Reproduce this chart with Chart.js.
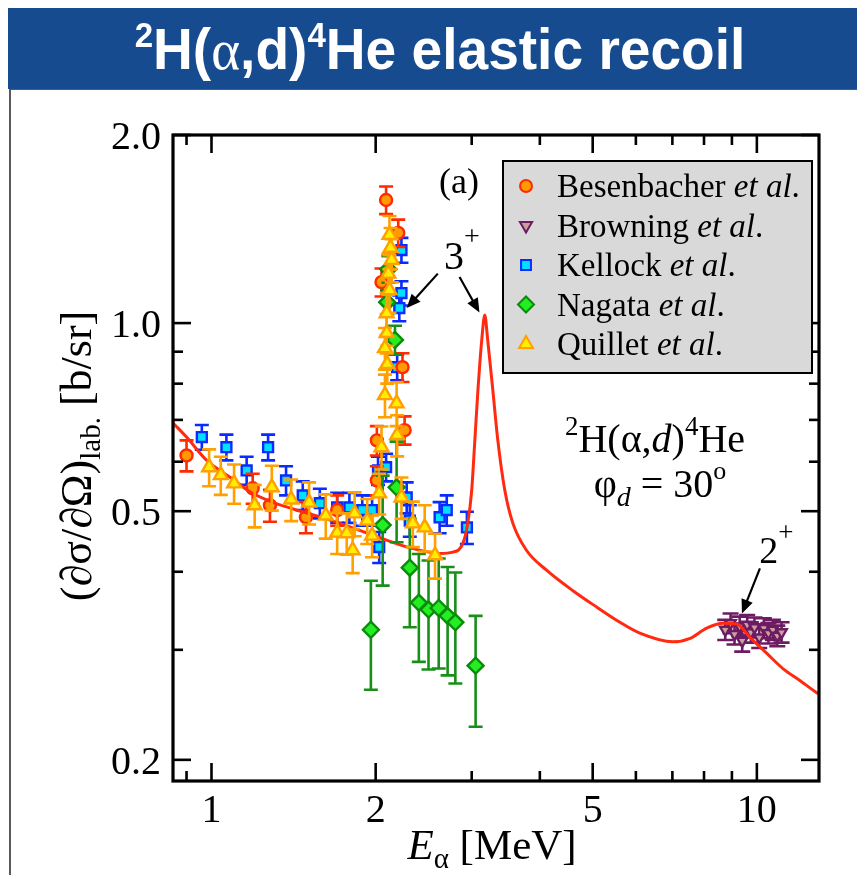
<!DOCTYPE html>
<html lang="en">
<head>
<meta charset="UTF-8">
<title>2H(a,d)4He elastic recoil</title>
<script src="https://cdn.jsdelivr.net/npm/chart.js"></script>
<style>
  body {
    margin: 0;
    width: 857px;
    height: 875px;
    background: #fff;
    overflow: hidden;
    position: relative;
  }
  header {
    position: absolute;
    left: 8px;
    top: 8px;
    width: 849px;
    height: 81px;
    background: #174b8f;
    color: #fff;
    font-family: 'Liberation Sans', Arial, sans-serif;
    font-weight: bold;
    font-size: 58px;
    line-height: 81px;
    text-align: center;
    z-index: 2;
  }
  header span.t { display: inline-block; transform: scaleX(0.95); padding-left: 16px; }
  header sup { font-size: 0.6em; vertical-align: 0.62em; line-height: 0; }
  header .al { font-family: 'Liberation Serif', serif; font-weight: normal; }
  .frame {
    position: absolute;
    left: 9px;
    top: 88px;
    width: 870px;
    height: 800px;
    border: 2px solid #5a5a5a;
    box-sizing: border-box;
  }
  #wrap { position: absolute; left: 0; top: 0; width: 857px; height: 875px; z-index: 1; }
</style>
</head>
<body>
<header><span class="t"><sup>2</sup>H(<span class="al">α</span>,d)<sup>4</sup>He elastic recoil</span></header>
<div class="frame"></div>
<div id="wrap"><canvas id="chart" width="857" height="875"></canvas></div>

<script>
// axis ranges and ticks (log-log)
const xMin = 0.85, xMax = 13;
const yMin = 0.185, yMax = 2.0;
const xMajor = [1, 2, 5, 10];
const xTickLabels = ['1', '2', '5', '10'];
const xMinor = [0.9, 3, 4, 6, 7, 8, 9];
const yMajor = [0.2, 0.5, 1.0, 2.0];
const yTickLabels = ['0.2', '0.5', '1.0', '2.0'];
const yMinor = [0.3, 0.4, 0.6, 0.7, 0.8, 0.9];

// R-matrix curve
const thE = [0.85, 0.90, 0.98, 1.09, 1.18, 1.30, 1.48, 1.66, 1.87, 2.03, 2.31, 2.62, 2.77, 2.89, 2.95, 3.00, 3.04, 3.08, 3.13, 3.17, 3.21, 3.28, 3.35, 3.45, 3.57, 3.78, 4.12, 4.60, 5.09, 5.61, 6.10, 7.01, 7.55, 8.09, 8.66, 9.19, 9.71, 10.43, 11.16, 11.99, 12.89, 13.0];
const thS = [0.692, 0.657, 0.603, 0.564, 0.536, 0.516, 0.498, 0.483, 0.466, 0.454, 0.437, 0.428, 0.430, 0.444, 0.478, 0.540, 0.649, 0.781, 0.939, 1.03, 0.939, 0.781, 0.649, 0.540, 0.478, 0.433, 0.402, 0.373, 0.351, 0.332, 0.319, 0.309, 0.313, 0.325, 0.331, 0.330, 0.314, 0.296, 0.280, 0.268, 0.256, 0.255];

// Besenbacher et al.
const besE = [0.90, 1.19, 1.28, 1.49, 1.70, 2.01, 2.01, 2.05, 2.09, 2.20, 2.24, 2.26];
const besS = [0.614, 0.544, 0.511, 0.489, 0.502, 0.649, 0.560, 1.163, 1.574, 1.394, 0.850, 0.674];
const besErr = [0.035, 0.03, 0.03, 0.028, 0.028, 0.035, 0.03, 0.06, 0.08, 0.07, 0.045, 0.035];

// Browning et al.
const broE = [8.75, 8.95, 9.10, 9.30, 9.40, 9.60, 9.75, 9.90, 10.1, 10.3, 10.5, 10.7, 10.9, 11.1];
const broS = [0.323, 0.331, 0.318, 0.327, 0.310, 0.329, 0.320, 0.326, 0.314, 0.325, 0.319, 0.323, 0.316, 0.320];
const broErr = [0.012, 0.012, 0.012, 0.012, 0.012, 0.012, 0.012, 0.012, 0.012, 0.012, 0.012, 0.012, 0.012, 0.012];

// Kellock et al.
const kelE = [0.96, 1.065, 1.16, 1.27, 1.37, 1.47, 1.58, 1.70, 1.79, 1.89, 1.97, 2.03, 2.02, 2.09, 2.19, 2.21, 2.23, 2.23, 2.28, 2.31, 2.62, 2.70, 2.94];
const kelS = [0.657, 0.633, 0.581, 0.633, 0.560, 0.530, 0.515, 0.507, 0.507, 0.502, 0.502, 0.438, 0.581, 0.588, 0.850, 1.057, 1.309, 1.117, 0.526, 0.483, 0.489, 0.502, 0.471];
const kelErr = [0.03, 0.03, 0.03, 0.03, 0.03, 0.028, 0.028, 0.028, 0.028, 0.028, 0.028, 0.025, 0.03, 0.03, 0.04, 0.05, 0.06, 0.05, 0.03, 0.028, 0.028, 0.028, 0.028];

// Nagata et al.
const nagE = [1.96, 2.11, 2.10, 2.17, 2.06, 2.185, 2.31, 2.40, 2.50, 2.61, 2.71, 2.80, 3.05];
const nagS = [0.323, 1.22, 1.08, 0.94, 0.475, 0.546, 0.406, 0.357, 0.348, 0.350, 0.340, 0.332, 0.283];
const nagErr = [0.064, 0.06, 0.05, 0.05, 0.095, 0.10, 0.08, 0.07, 0.069, 0.07, 0.067, 0.067, 0.057];

// Quillet et al.
const quiE = [0.99, 1.04, 1.10, 1.20, 1.29, 1.40, 1.51, 1.62, 1.70, 1.77, 1.815, 1.83, 1.93, 1.97, 2.03, 2.05, 2.08, 2.08, 2.095, 2.095, 2.12, 2.14, 2.12, 2.11, 2.10, 2.13, 2.185, 2.19, 2.23, 2.34, 2.46, 2.57];
const quiS = [0.588, 0.571, 0.554, 0.511, 0.546, 0.522, 0.516, 0.492, 0.462, 0.461, 0.433, 0.496, 0.483, 0.457, 0.534, 0.633, 0.767, 0.912, 0.964, 1.037, 1.129, 1.262, 1.384, 1.20, 0.86, 1.32, 0.744, 0.662, 0.526, 0.478, 0.471, 0.425];
const quiErr = [0.04, 0.04, 0.04, 0.04, 0.045, 0.04, 0.04, 0.04, 0.035, 0.035, 0.035, 0.04, 0.04, 0.035, 0.04, 0.05, 0.06, 0.07, 0.07, 0.08, 0.09, 0.1, 0.1, 0.09, 0.06, 0.1, 0.06, 0.05, 0.04, 0.04, 0.04, 0.035];

const pts = (xs, ys) => xs.map((v, i) => ({ x: v, y: ys[i] }));

const SERIF = '"Liberation Serif", "Times New Roman", serif';

// vertical error bars, drawn just under each dataset's markers
const errorBars = {
  id: 'errorBars',
  beforeDatasetDraw(chart, args) {
    const ds = chart.data.datasets[args.index];
    if (!ds.errors) return;
    const { ctx, chartArea: a, scales: { x, y } } = chart;
    ctx.save();
    ctx.beginPath();
    ctx.rect(a.left, a.top, a.right - a.left, a.bottom - a.top);
    ctx.clip();
    ctx.strokeStyle = ds.barColor;
    ctx.lineWidth = 2.6;
    const cap = ds.capWidth;
    ds.data.forEach((p, i) => {
      const e = ds.errors[i];
      const px = x.getPixelForValue(p.x);
      const top = y.getPixelForValue(p.y + e);
      const bot = y.getPixelForValue(p.y - e);
      ctx.beginPath();
      ctx.moveTo(px, top); ctx.lineTo(px, bot);
      ctx.moveTo(px - cap, top); ctx.lineTo(px + cap, top);
      ctx.moveTo(px - cap, bot); ctx.lineTo(px + cap, bot);
      ctx.stroke();
    });
    ctx.restore();
  }
};

// draws text made of several runs (italic, sub/superscripts) on one baseline
function richText(ctx, parts, x, y, align) {
  let w = 0;
  parts.forEach(p => { ctx.font = p.f; w += ctx.measureText(p.t).width; });
  let cx = align === 'center' ? x - w / 2 : x;
  ctx.textAlign = 'left';
  ctx.textBaseline = 'alphabetic';
  parts.forEach(p => {
    ctx.font = p.f;
    ctx.fillText(p.t, cx, y + (p.dy || 0));
    cx += ctx.measureText(p.t).width;
  });
}

function arrow(ctx, x0, y0, x1, y1) {
  const ang = Math.atan2(y1 - y0, x1 - x0);
  const L = 14, W = 6;
  ctx.beginPath();
  ctx.moveTo(x0, y0);
  ctx.lineTo(x1 - Math.cos(ang) * L * 0.8, y1 - Math.sin(ang) * L * 0.8);
  ctx.stroke();
  ctx.beginPath();
  ctx.moveTo(x1, y1);
  ctx.lineTo(x1 - Math.cos(ang) * L - Math.sin(ang) * W, y1 - Math.sin(ang) * L + Math.cos(ang) * W);
  ctx.lineTo(x1 - Math.cos(ang) * L + Math.sin(ang) * W, y1 - Math.sin(ang) * L - Math.cos(ang) * W);
  ctx.closePath();
  ctx.fill();
}

// frame with inward ticks, tick labels, titles, legend and annotations
const frame = {
  id: 'frame',
  afterDraw(chart) {
    const { ctx, chartArea: a, scales: { x, y } } = chart;
    ctx.save();
    ctx.strokeStyle = '#000';
    ctx.fillStyle = '#000';
    ctx.lineWidth = 2.6;
    const seg = (x0, y0, x1, y1) => { ctx.beginPath(); ctx.moveTo(x0, y0); ctx.lineTo(x1, y1); ctx.stroke(); };
    const xt = (vals, len) => vals.forEach(v => {
      const px = x.getPixelForValue(v);
      seg(px, a.bottom, px, a.bottom - len);
      seg(px, a.top, px, a.top + len);
    });
    const yt = (vals, len) => vals.forEach(v => {
      const py = y.getPixelForValue(v);
      seg(a.left, py, a.left + len, py);
      seg(a.right, py, a.right - len, py);
    });
    xt(xMajor, 18); xt(xMinor, 10);
    yt(yMajor, 18); yt(yMinor, 10);
    ctx.lineWidth = 3.2;
    ctx.strokeRect(a.left, a.top, a.right - a.left, a.bottom - a.top);

    // tick labels
    ctx.font = '40px ' + SERIF;
    ctx.textAlign = 'center';
    ctx.textBaseline = 'alphabetic';
    xMajor.forEach((v, i) => ctx.fillText(xTickLabels[i], x.getPixelForValue(v), a.bottom + 41));
    ctx.textAlign = 'right';
    yMajor.forEach((v, i) => ctx.fillText(yTickLabels[i], a.left - 12, y.getPixelForValue(v) + 14));

    // axis titles
    richText(ctx, [
      { t: 'E', f: 'italic 43px ' + SERIF },
      { t: 'α', f: '29px ' + SERIF, dy: 9 },
      { t: ' [MeV]', f: '43px ' + SERIF }
    ], (a.left + a.right) / 2 - 4, a.bottom + 78, 'center');

    ctx.save();
    ctx.translate(91, (a.top + a.bottom) / 2 - 2);
    ctx.rotate(-Math.PI / 2);
    richText(ctx, [
      { t: '(∂σ/∂Ω)', f: '44px ' + SERIF },
      { t: 'lab.', f: '29px ' + SERIF, dy: 9 },
      { t: ' [b/sr]', f: '44px ' + SERIF }
    ], 0, 0, 'center');
    ctx.restore();

    // legend box
    const lx = a.left + 330, ly = a.top + 26, lw = 309, lh = 212;
    ctx.fillStyle = '#d9d9d9';
    ctx.fillRect(lx, ly, lw, lh);
    ctx.lineWidth = 2;
    ctx.strokeRect(lx, ly, lw, lh);
    const rows = chart.data.datasets.filter(d => d.legendName);
    rows.sort((p, q) => p.legendRank - q.legendRank);
    rows.forEach((d, i) => {
      const ry = ly + 25 + i * 39.5;
      ctx.fillStyle = d.pointBackgroundColor;
      ctx.strokeStyle = d.pointBorderColor;
      Chart.helpers.drawPoint(ctx, {
        pointStyle: d.pointStyle, rotation: d.pointRotation || 0,
        radius: d.legendRadius, borderWidth: 2.4
      }, lx + 23, ry);
      ctx.fillStyle = '#000';
      richText(ctx, [
        { t: d.legendName + ' ', f: '33px ' + SERIF },
        { t: 'et al', f: 'italic 33px ' + SERIF },
        { t: '.', f: '33px ' + SERIF }
      ], lx + 54, ry + 11, 'left');
    });

    // annotations
    ctx.fillStyle = '#000';
    ctx.strokeStyle = '#000';
    ctx.lineWidth = 2.2;
    richText(ctx, [{ t: '(a)', f: '36px ' + SERIF }], a.left + 266, a.top + 58, 'left');
    richText(ctx, [
      { t: '3', f: '40px ' + SERIF },
      { t: '+', f: '28px ' + SERIF, dy: -24 }
    ], x.getPixelForValue(2.67), y.getPixelForValue(1.22), 'left');
    arrow(ctx, x.getPixelForValue(2.60), y.getPixelForValue(1.20), x.getPixelForValue(2.28), y.getPixelForValue(1.057));
    arrow(ctx, x.getPixelForValue(2.85), y.getPixelForValue(1.185), x.getPixelForValue(3.10), y.getPixelForValue(1.04));
    richText(ctx, [
      { t: '2', f: '38px ' + SERIF },
      { t: '+', f: '27px ' + SERIF, dy: -22 }
    ], x.getPixelForValue(10.1), y.getPixelForValue(0.413), 'left');
    arrow(ctx, x.getPixelForValue(10.13), y.getPixelForValue(0.405), x.getPixelForValue(9.39), y.getPixelForValue(0.343));

    richText(ctx, [
      { t: '2', f: '27px ' + SERIF, dy: -17 },
      { t: 'H(α,', f: '40px ' + SERIF },
      { t: 'd', f: 'italic 40px ' + SERIF },
      { t: ')', f: '40px ' + SERIF },
      { t: '4', f: '27px ' + SERIF, dy: -17 },
      { t: 'He', f: '40px ' + SERIF }
    ], 655, 452, 'center');
    richText(ctx, [
      { t: 'φ', f: '40px ' + SERIF },
      { t: 'd', f: 'italic 28px ' + SERIF, dy: 9 },
      { t: ' = 30', f: '40px ' + SERIF },
      { t: 'o', f: '26px ' + SERIF, dy: -18 }
    ], 660, 497, 'center');
    ctx.restore();
  }
};

const dataSeries = (name, rank, order, xs, ys, errs, style) => Object.assign({
  label: name + ' et al.',
  legendName: name,
  legendRank: rank,
  order: order,
  data: pts(xs, ys),
  errors: errs,
  showLine: false,
  pointBorderWidth: 2.4
}, style);

new Chart(document.getElementById('chart'), {
  type: 'scatter',
  data: {
    datasets: [
      dataSeries('Besenbacher', 0, 4, besE, besS, besErr, {
        pointStyle: 'circle', pointRadius: 6, legendRadius: 6,
        pointBackgroundColor: '#ff9a00', pointBorderColor: '#ff2a00', barColor: '#ff2a00', capWidth: 7
      }),
      dataSeries('Browning', 1, 6, broE, broS, broErr, {
        pointStyle: 'triangle', pointRotation: 180, pointRadius: 6, legendRadius: 7,
        pointBackgroundColor: '#c9a09c', pointBorderColor: '#6d1b62', barColor: '#6d1b62', capWidth: 8
      }),
      dataSeries('Kellock', 2, 5, kelE, kelS, kelErr, {
        pointStyle: 'rect', pointRadius: 7, legendRadius: 7,
        pointBackgroundColor: '#00e0ff', pointBorderColor: '#0a2bff', barColor: '#0a2bff', capWidth: 7
      }),
      dataSeries('Nagata', 3, 2, nagE, nagS, nagErr, {
        pointStyle: 'rectRot', pointRadius: 8, legendRadius: 8,
        pointBackgroundColor: '#22ee22', pointBorderColor: '#0c8a0c', barColor: '#189018', capWidth: 7
      }),
      dataSeries('Quillet', 4, 1, quiE, quiS, quiErr, {
        pointStyle: 'triangle', pointRadius: 8, legendRadius: 8,
        pointBackgroundColor: '#ffee00', pointBorderColor: '#ffa000', barColor: '#ffa000', capWidth: 7
      }),
      {
        label: 'R-matrix',
        order: 3,
        data: pts(thE, thS),
        showLine: true,
        borderColor: '#ff2a10',
        borderWidth: 3,
        pointRadius: 0,
        cubicInterpolationMode: 'monotone'
      }
    ]
  },
  options: {
    responsive: false,
    animation: false,
    layout: { padding: { left: 173, top: 135, right: 38, bottom: 94 } },
    plugins: { legend: { display: false }, tooltip: { enabled: false } },
    scales: {
      x: { type: 'logarithmic', min: xMin, max: xMax, display: false },
      y: { type: 'logarithmic', min: yMin, max: yMax, display: false }
    }
  },
  plugins: [errorBars, frame]
});
</script>
</body>
</html>
